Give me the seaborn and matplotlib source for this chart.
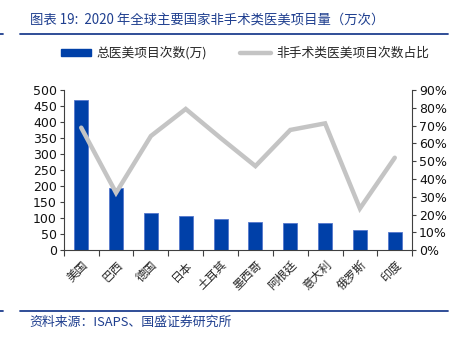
import numpy as np
import pandas as pd
import matplotlib
matplotlib.use("Agg")
import matplotlib.pyplot as plt
import seaborn as sns
from matplotlib.patches import Patch
from matplotlib.lines import Line2D

countries = ["美国", "巴西", "德国", "日本", "土耳其", "墨西哥", "阿根廷", "意大利", "俄罗斯", "印度"]
total_wan = [467, 193, 117, 107, 96, 87, 86, 84, 63, 55]
nonsurg_share = [68.8, 32.2, 64.1, 79.3, 63.0, 47.2, 67.5, 71.2, 23.4, 51.9]
left_ticks = [0, 50, 100, 150, 200, 250, 300, 350, 400, 450, 500]
right_ticks = [0, 10, 20, 30, 40, 50, 60, 70, 80, 90]
title = "图表 19:  2020 年全球主要国家非手术类医美项目量（万次）"
source = "资料来源：ISAPS、国盛证券研究所"
bar_label = "总医美项目次数(万)"
line_label = "非手术类医美项目次数占比"

sns.set_theme(style="white")
plt.rcParams["font.family"] = ["Noto Sans CJK SC", "DejaVu Sans"]

BLUE = "#0040A8"
GRAY = "#C4C4C4"
TITLE_BLUE = "#1F3F8F"

df = pd.DataFrame({"country": countries, "total": total_wan, "share": nonsurg_share})

fig = plt.figure(figsize=(4.59, 3.38), dpi=100)
ax = fig.add_axes([0.139, 0.260, 0.759, 0.474])
sns.barplot(data=df, x="country", y="total", color=BLUE, width=0.4, ax=ax,
            saturation=1, edgecolor="#5577CC", linewidth=0.6)
ax.set_ylim(0, 500)
ax.set_yticks(left_ticks)
ax.set_xlim(-0.5, len(countries) - 0.5)
ax.set_xlabel("")
ax.set_ylabel("")

ax2 = ax.twinx()
sns.lineplot(x=np.arange(len(countries)), y=df["share"], color=GRAY, linewidth=3.2,
             ax=ax2, solid_joinstyle="miter")
ax2.set_ylim(0, 90)
ax2.set_yticks(right_ticks)
ax2.set_yticklabels([f"{v}%" for v in right_ticks])
ax2.set_ylabel("")
ax2.set_xlim(-0.5, len(countries) - 0.5)

for a in (ax, ax2):
    a.spines["top"].set_visible(False)
    for s in ["left", "right", "bottom"]:
        a.spines[s].set_color("#404040")
        a.spines[s].set_linewidth(0.8)
ax.spines["right"].set_visible(False)
ax2.spines["left"].set_visible(False)
ax2.spines["bottom"].set_visible(False)

ax.tick_params(axis="y", which="both", left=True, length=3, width=0.8, color="#404040",
               labelsize=9, pad=2, labelcolor="#111111")
ax2.tick_params(axis="y", right=True, length=3, width=0.8, color="#404040",
                labelsize=9, pad=2, labelcolor="#111111")
for lbl in ax.get_yticklabels() + ax2.get_yticklabels():
    lbl.set_family(["DejaVu Sans"])

ax.set_xticks(np.arange(len(countries)))
ax.set_xticklabels(countries, rotation=45, ha="right", rotation_mode="anchor", fontsize=8.5)
ax.set_xticks(np.arange(-0.5, len(countries)), minor=True)
ax.tick_params(axis="x", which="major", length=0, pad=6)
ax.tick_params(axis="x", which="minor", bottom=True, length=4, width=0.8, color="#404040")
ax.grid(False)
ax2.grid(False)

# title and rules
fig.text(0.065, 0.938, title, fontsize=9.6, color=TITLE_BLUE, style="italic",
         ha="left", va="center")
fig.add_artist(Line2D([0.043, 0.976], [0.899, 0.899], color=TITLE_BLUE, linewidth=1.3))
fig.add_artist(Line2D([0.0, 0.007], [0.899, 0.899], color=TITLE_BLUE, linewidth=1.3))
fig.add_artist(Line2D([0.043, 0.976], [0.080, 0.080], color=TITLE_BLUE, linewidth=1.3))
fig.add_artist(Line2D([0.0, 0.007], [0.080, 0.080], color=TITLE_BLUE, linewidth=1.3))
fig.text(0.065, 0.047, source, fontsize=9.3, color=TITLE_BLUE, style="italic",
         ha="left", va="center")

handles = [Patch(facecolor=BLUE, edgecolor=BLUE),
           Line2D([0], [0], color=GRAY, linewidth=3.2)]
fig.legend(handles, [bar_label, line_label], loc="center", bbox_to_anchor=(0.533, 0.843),
           ncol=2, frameon=False, fontsize=9.2, handlelength=2.4, handleheight=0.5,
           columnspacing=2.6, handletextpad=0.4)

fig.savefig("out.png", dpi=100)
